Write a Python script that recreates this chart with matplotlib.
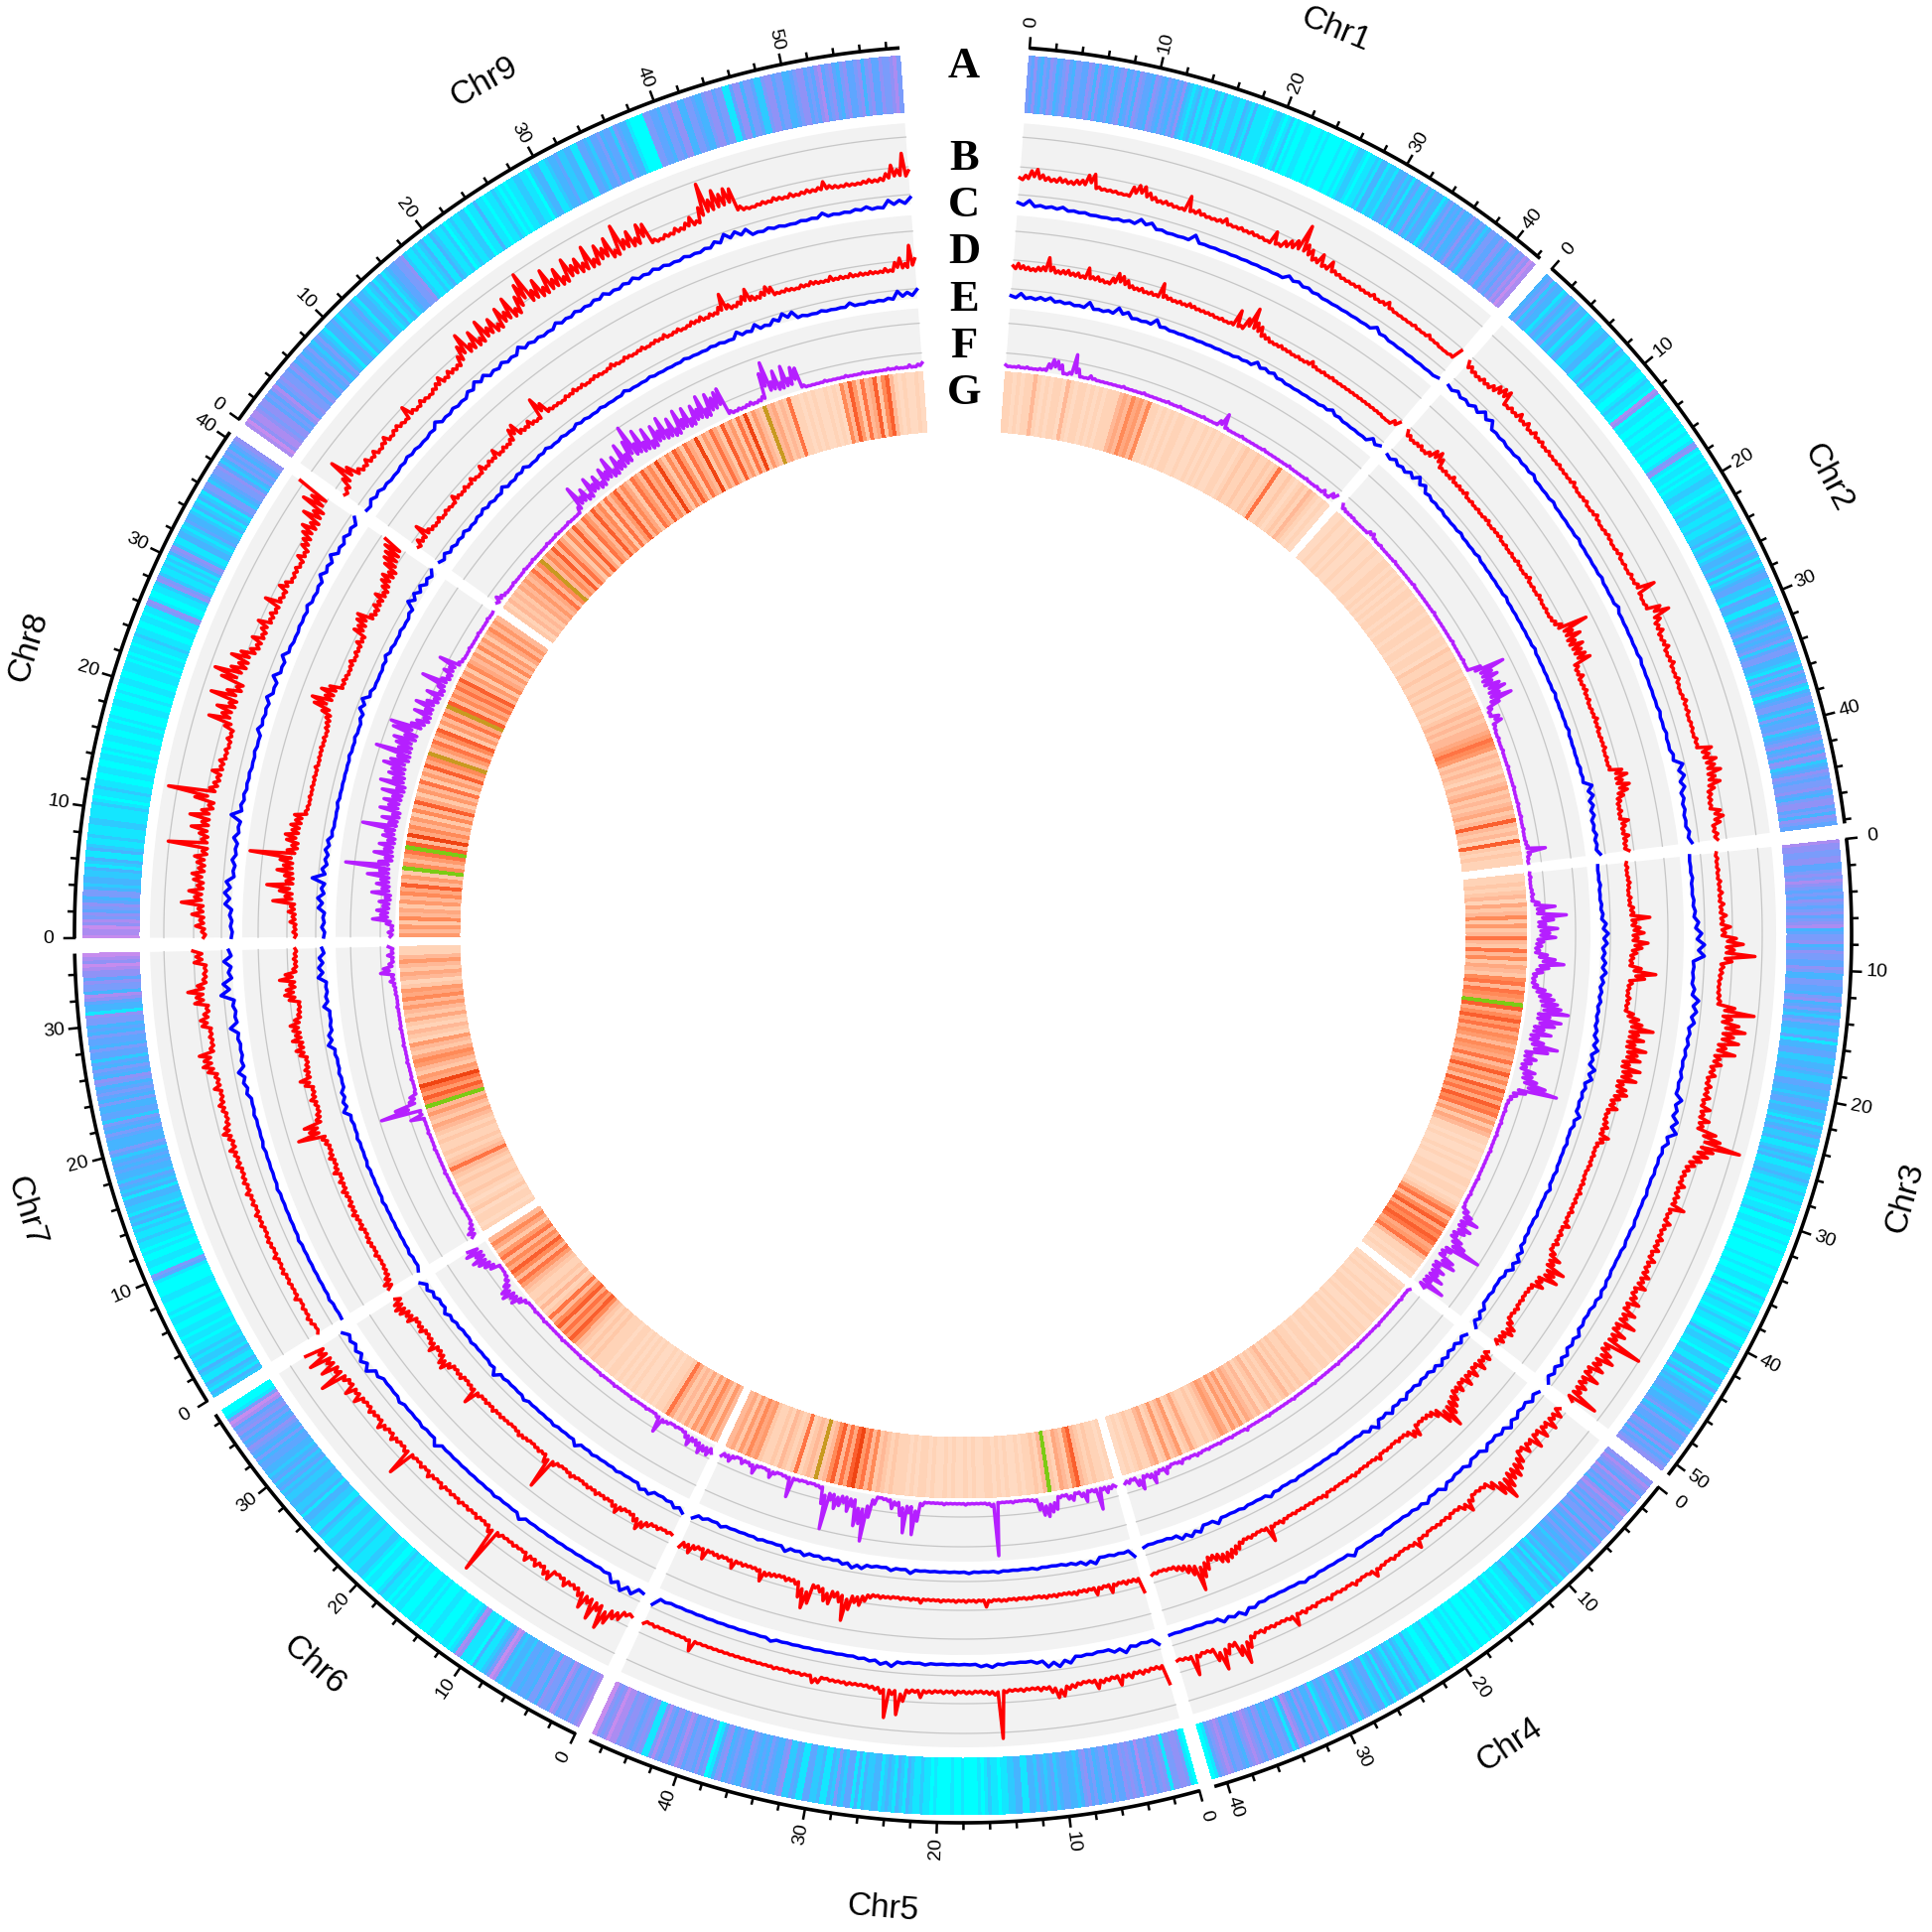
import numpy as np
import matplotlib
matplotlib.use('Agg')
import matplotlib.pyplot as plt
from matplotlib.patches import Wedge
from matplotlib.collections import PatchCollection

# Chromosomes
chr_names = ['Chr1', 'Chr2', 'Chr3', 'Chr4', 'Chr5', 'Chr6', 'Chr7', 'Chr8', 'Chr9']
chr_sizes = [42.3, 48.3, 51, 41, 47.1, 36.7, 35.6, 40.5, 59]
track_letters = ['A', 'B', 'C', 'D', 'E', 'F', 'G']

# Track A, colour class along each chromosome
a_chr1 = [5,4,6,4,3,5,4,6,5,3,4,5,6,4,3,5,5,4,4,6,5,3,6,4,3,4,5,3,4,5,6,3,4,5,3,6,5,4,4,3,6,5,4,3,5,4,3,5,4,6,3,2,1,2,3,1,2,1,1,3,2,1,3,1,1,2,2,1,1,3,2,1,3,1,1,1,1,0,1,2,2,1,0,1,2,0,1,0,0,1,1,0,0,0,1,0,1,0,0,0,0,1,0,0,1,0,1,2,2,1,0,1,1,2,1,3,3,1,2,2,1,3,3,4,2,3,1,3,4,2,2,5,3,2,4,3,3,1,2,4,5,3,4,3,5,3,3,4,6,4,3,5,4,2,3,5,5,4,4,6,5,3,4,6,5,4,6,5,7,6,8,7]
a_chr2 = [3,4,5,2,4,3,3,1,2,4,3,2,4,5,2,3,3,1,2,4,3,1,1,2,2,3,3,1,1,2,3,1,3,2,1,1,2,1,1,2,1,0,0,1,2,1,1,0,7,6,0,1,1,0,0,1,0,0,1,1,0,1,0,0,1,0,0,1,5,6,1,0,1,1,0,1,0,1,1,2,2,1,1,0,1,2,1,2,2,1,1,2,1,1,2,2,3,1,2,3,2,1,2,3,3,2,4,3,1,3,1,2,3,4,4,2,2,1,4,3,3,1,1,4,3,2,3,4,5,3,2,4,3,4,5,2,4,5,5,3,3,2,1,4,2,5,3,4,5,2,1,3,4,5,5,3,2,5,3,4,4,5,2,3,4,5,6,3,4,5,3,6,5,2,3,4,6,5,4,5,5,6,4,3,5,6,6,4,5,3,6,5,4]
a_chr3 = [7,6,6,5,5,6,6,4,4,5,6,5,7,6,5,4,5,4,6,5,4,5,6,4,5,6,7,3,4,5,5,6,3,4,6,5,5,4,4,6,5,3,3,5,5,4,4,3,5,6,3,4,5,3,2,4,5,3,3,2,2,4,1,3,3,4,4,2,2,3,3,4,3,2,2,4,4,3,3,2,3,4,4,2,3,3,2,1,3,2,3,4,2,2,3,1,1,2,3,2,3,1,1,2,2,3,2,1,1,2,1,1,2,1,1,0,1,1,2,0,0,1,1,0,0,1,0,0,1,0,0,0,0,1,0,0,1,0,0,1,1,0,0,2,1,0,1,0,1,2,1,1,0,1,2,1,1,0,0,1,3,1,2,2,1,1,0,2,2,1,1,3,3,1,2,4,1,2,3,2,3,4,4,3,2,3,3,4,5,2,3,5,4,4,3,6,5,4,6,3,5,4,5,6]
a_chr4 = [6,5,7,6,5,4,7,5,6,4,5,3,6,7,5,6,4,5,3,6,4,5,5,3,6,4,3,5,4,3,5,4,3,4,2,3,3,4,2,3,1,2,3,1,3,2,1,2,2,1,1,3,2,1,1,0,1,1,0,1,2,0,1,1,0,0,1,0,1,0,0,0,1,0,0,1,0,1,1,0,0,1,0,0,2,1,1,0,0,1,1,3,1,1,2,3,1,2,3,1,2,3,4,1,3,2,1,4,4,3,2,3,4,5,3,1,4,5,3,2,5,4,3,4,2,1,5,3,3,5,4,6,3,4,6,7,3,1,4,5,5,3,4,3,5,6,4,5,6,7,6,5,3,4,5,5,4,6,7,6,5,4,1,0]
a_chr5 = [0,1,5,6,6,5,5,1,5,6,5,4,6,5,5,7,4,5,6,5,6,4,4,5,3,5,5,4,3,5,4,6,5,3,2,3,3,4,4,3,2,4,3,2,3,4,2,3,3,1,1,3,3,2,2,1,1,0,1,1,2,1,0,1,0,0,0,0,1,0,0,1,0,0,0,0,1,0,1,1,2,1,1,2,3,1,2,3,1,2,3,2,1,3,3,2,2,3,1,3,1,4,4,2,3,5,2,3,1,1,3,2,2,4,4,1,1,3,4,2,2,6,5,3,3,4,5,3,4,3,4,5,6,3,3,4,5,4,3,6,5,3,1,0,5,4,6,4,5,5,4,6,7,5,4,6,6,4,5,7,5,1,1,5,6,5,4,5,6,6,5,7,7,8,6,5,6,8]
a_chr6 = [7,6,5,6,4,5,5,4,6,7,4,5,5,6,3,5,5,3,4,4,3,4,4,2,3,3,2,3,7,8,5,3,2,1,1,3,0,1,1,1,6,7,2,1,0,1,1,0,0,0,1,1,0,0,0,1,0,1,1,0,0,0,1,1,0,1,0,1,1,2,1,0,0,1,1,0,1,2,2,1,1,1,2,1,1,2,2,1,1,2,2,1,1,2,3,1,1,2,2,3,3,1,3,2,2,3,3,2,2,3,2,4,3,2,4,3,2,3,3,4,4,3,5,3,4,5,6,4,3,5,4,6,5,4,7,8,5,1,0,0]
a_chr7 = [2,3,1,2,3,1,1,2,3,1,2,2,1,2,1,1,0,1,1,0,1,1,0,0,1,1,0,1,0,0,0,1,1,0,0,0,0,1,4,5,0,0,1,1,0,0,1,0,1,1,2,1,1,2,1,3,2,3,1,2,2,3,3,1,3,2,3,4,2,3,3,4,3,4,3,2,4,5,3,3,3,4,5,3,4,5,2,4,4,3,3,5,3,4,5,4,3,5,6,3,4,5,3,4,2,4,4,5,3,4,4,5,3,4,3,5,5,6,1,3,3,4,6,7,3,5,5,6,4,6,6,7,8,6,7,8]
a_chr8 = [8,7,7,8,6,7,5,6,4,5,6,4,3,5,5,3,2,3,3,2,2,3,1,2,3,1,1,3,2,1,1,2,1,1,1,2,2,1,1,1,1,2,1,0,1,1,2,1,1,0,0,1,1,0,0,1,1,0,1,0,0,1,1,0,0,1,1,0,1,0,0,0,1,1,0,0,1,0,0,1,1,0,0,1,1,1,0,1,0,1,1,0,1,1,2,1,1,0,0,1,1,0,1,1,5,6,1,0,0,1,1,2,6,5,2,1,1,2,1,2,1,3,5,6,2,1,1,3,3,2,1,2,4,3,3,2,1,3,2,1,3,2,1,4,5,5,2,3,4,5,5,6,4,2,3,5,4,5,3,4,5,6]
a_chr9 = [7,8,6,7,7,6,5,6,6,4,5,4,6,7,4,5,6,5,5,4,6,5,3,4,5,3,4,5,3,2,4,5,3,2,1,3,3,4,2,1,3,2,2,3,4,2,1,3,3,2,1,2,3,1,2,3,1,2,3,4,4,5,5,6,2,1,1,2,1,2,3,1,1,3,2,1,1,2,0,1,2,1,1,2,2,0,1,1,3,1,1,0,1,1,2,1,0,1,0,1,1,2,2,1,1,0,2,3,3,1,1,2,3,3,4,2,2,3,3,1,1,4,4,3,2,4,4,5,3,4,4,2,5,4,3,3,1,0,0,0,0,5,5,4,4,3,5,5,4,6,6,3,3,5,5,4,3,3,5,6,6,4,5,5,1,1,4,6,6,3,5,5,4,2,2,5,6,6,4,5,5,3,3,4,5,6,6,4,5,4,6,7,4,5,6,4,3,5,6,4,4,5,6,3,5,6,4,4,6,5,5,6,7,5]

# Track B, height above the track baseline
b_chr1 = [3,6,11,13,8,6,5,7,6,5,7,8,14,16,4,3,3,3,2,2,11,14,14,9,6,4,5,4,3,3,17,4,6,4,3,3,4,7,3,3,4,3,4,3,3,2,14,4,9,12,15,34,16,13,7,14,5,12,5,4,3,3,3,4,3,3,5,3,4,7,3,2,2,2,2,3,2,2,4,2,2,1,1,2,12]
b_chr2 = [9,7,5,4,6,5,8,12,14,15,3,5,4,8,4,7,3,6,4,5,3,4,3,3,4,3,3,3,5,3,2,3,4,2,3,5,3,2,3,4,3,2,3,5,2,3,2,4,3,5,20,3,2,3,15,22,10,6,8,4,5,7,3,4,6,3,3,5,3,2,3,5,3,4,2,3,3,2,4,3,16,12,18,15,20,13,17,10,6,5,4,12,14,10,4,6,5]
b_chr3 = [2,3,2,3,2,4,3,5,3,6,4,8,5,12,7,18,25,16,37,14,6,5,4,3,3,4,5,20,40,18,26,33,22,28,16,26,12,14,8,10,5,8,6,9,5,12,7,14,9,24,30,52,26,22,17,12,8,6,5,9,5,7,6,17,5,4,9,6,5,8,6,9,5,10,7,8,12,9,14,7,10,16,8,18,12,24,10,20,14,44,12,18,24,14,20,10,22,12,16,14,36,12]
b_chr4 = [7,13,9,16,8,15,6,17,7,12,5,14,18,22,20,25,34,24,12,5,4,3,7,14,8,4,3,5,3,4,3,2,4,3,10,4,3,2,3,4,2,3,4,9,3,2,3,5,2,3,3,2,5,3,2,4,3,5,3,13,4,3,3,4,3,5,3,6,14,28,18,6,12,26,15,4,3,5,22,4,3,2]
b_chr5 = [22,5,4,5,6,4,7,5,12,4,5,6,11,4,3,4,6,7,13,14,8,4,5,3,3,4,3,3,4,50,6,5,4,3,4,4,3,5,3,4,3,4,4,9,4,5,14,28,8,32,8,5,4,3,3,3,4,3,3,3,2,7,8,2,3,2,3,2,2,3,2,2,2,2,2,2,2,2,2,2,2,2,2,2,12,3,2,2,2,2,2,3,2,4]
b_chr6 = [3,5,12,14,22,30,14,26,12,20,10,6,5,9,4,3,12,10,5,8,4,9,3,3,4,3,3,5,50,8,4,3,5,3,4,3,5,3,4,3,6,3,4,7,3,5,3,4,30,6,4,5,8,4,6,10,4,5,7,4,5,12,6,14,5,8,30,10,22,12,28,14,26]
b_chr7 = [3,2,4,5,3,4,2,6,3,3,4,3,5,4,3,6,3,4,5,4,3,5,4,6,3,5,4,7,4,6,5,4,7,5,6,9,5,7,11,8,5,4,6,8,5,4,9,5,6,12,16,14,18,6,4,5,4,11,12,8,5,16,14,22,12,6,5,4,14,12,15]
b_chr8 = [4,6,12,8,16,10,27,14,20,12,16,18,12,14,17,10,45,12,15,24,14,27,16,10,25,53,12,9,7,13,6,8,4,5,3,6,4,12,30,18,25,14,35,20,12,30,39,24,18,28,20,12,8,15,7,10,16,6,8,5,19,6,5,12,8,4,5,6,4,10,6,12,14,18,22,16,28,20,36,30,48]
b_chr9 = [3,6,14,32,18,8,5,8,4,7,3,5,8,3,5,6,4,3,14,5,3,6,4,3,5,7,10,5,8,6,6,12,20,30,14,24,12,28,16,22,12,26,18,30,14,24,34,43,20,28,16,32,18,26,14,30,20,24,16,31,14,26,20,28,12,36,18,24,14,26,24,5,3,5,4,7,5,8,12,6,18,41,22,30,24,28,26,6,3,2,3,4,3,5,4,3,5,3,4,5,4,5,10,5,4,3,4,3,3,4,5,4,5,9,17,12,28,10]

# Track C
c_chr1 = [4,7,3,3,4,2,2,1,1,2,3,7,6,2,1,1,7,1,1,1,1,1,1,1,1,5,4,3,2,1,1,1,1,1,5,2,1,1,1,1,1,2]
c_chr2 = [3,5,4,6,9,8,2,2,1,2,2,3,1,1,2,1,1,1,2,1,1,1,2,1,1,3,1,1,1,1,2,1,1,1,1,2,1,2,1,3,10,9,7,4,3,2,4,5]
c_chr3 = [1,1,2,1,2,3,6,9,12,12,2,2,4,9,8,7,4,4,3,2,3,2,8,6,9,11,6,3,2,2,1,2,1,1,2,1,2,1,1,2,3,4,3,2,3,6,5,7,8,7,8]
c_chr4 = [6,7,4,6,8,5,3,6,2,5,2,3,6,2,5,3,2,1,1,2,1,1,5,1,1,1,2,3,1,1,1,2,4,7,5,6,2,1,1,1,1]
c_chr5 = [7,2,3,7,4,1,2,2,7,9,8,3,1,1,2,4,3,1,1,1,1,2,1,2,6,5,3,2,1,1,1,1,1,1,1,3,1,1,1,1,1,1,1,1,1,2,9]
c_chr6 = [3,9,11,8,2,1,1,1,1,1,1,1,1,5,1,1,2,1,1,1,1,1,1,6,1,2,1,1,3,1,1,4,10,9,7,6,8]
c_chr7 = [1,1,2,1,1,1,1,1,2,1,1,1,1,2,1,1,1,2,1,1,2,1,4,5,8,3,2,3,9,3,4,15,12,6,10,5]
c_chr8 = [2,3,4,9,10,9,3,5,3,6,3,12,4,3,2,2,1,2,1,5,3,3,6,2,7,2,6,2,1,2,2,4,2,3,7,5,8,4,6,5,8]
c_chr9 = [2,5,4,2,1,2,3,2,1,2,6,2,3,2,5,8,7,4,5,3,7,4,3,2,5,3,4,3,4,5,3,4,5,3,4,3,2,3,2,3,6,10,9,8,2,3,2,1,2,2,5,2,2,3,4,2,8,7,9]

# Track D
d_chr1 = [5,8,6,5,4,6,7,17,8,5,6,7,5,6,4,13,5,6,4,3,8,14,12,9,5,4,5,3,4,3,16,5,4,3,4,3,5,4,3,3,3,3,2,3,2,3,18,4,14,27,14,12,6,5,3,3,4,3,3,2,3,2,3,6,3,2,3,2,3,2,2,2,2,2,2,2,2,2,2,2,2,1,1,6,8]
d_chr2 = [7,5,3,4,5,3,6,12,14,10,3,4,3,6,3,4,3,5,2,3,2,3,2,3,4,2,3,3,4,2,3,2,3,2,4,3,2,3,5,2,3,2,4,3,2,3,2,3,5,9,34,16,22,14,20,16,18,21,6,4,7,3,4,5,3,4,2,3,3,5,3,4,2,3,3,4,2,3,2,3,14,18,12,18,15,10,6,4,5,3,10,6,4,8,5,4,6]
d_chr3 = [2,3,2,3,4,3,2,4,3,6,6,22,8,12,16,10,20,14,9,6,5,14,29,18,6,4,3,5,4,3,10,16,20,32,18,24,16,28,20,24,14,26,18,24,12,16,18,12,8,12,5,4,6,8,5,12,8,4,3,4,3,4,3,2,3,4,3,5,3,4,3,5,3,4,8,3,5,4,6,3,8,16,12,26,18,24,10,14,5,4,3,4,3,5,4,3,8,14,15,10,12,8]
d_chr4 = [6,12,8,14,6,13,7,14,6,12,8,14,18,22,33,24,12,7,5,4,4,13,11,5,3,4,2,3,3,2,6,3,2,3,2,3,4,2,3,2,2,3,2,5,3,2,3,2,3,2,3,2,3,5,3,4,17,3,2,3,4,3,5,9,12,14,16,14,10,8,16,22,34,16,12,8,6,3,3,2,3,3]
d_chr5 = [17,5,4,5,3,4,10,3,4,9,3,4,3,5,4,3,3,4,3,4,3,2,3,3,2,3,2,3,3,2,3,8,2,3,2,3,2,3,2,2,3,2,2,2,5,2,3,2,3,2,3,3,4,3,5,9,14,12,20,32,14,10,18,16,8,5,22,28,18,6,4,5,3,4,5,6,13,4,3,3,4,3,10,4,3,5,4,3,12,4,6,12,8,10]
d_chr6 = [2,3,2,4,3,6,10,14,8,4,3,5,10,6,3,4,3,5,3,4,3,2,3,5,3,2,3,6,35,9,3,4,3,2,3,4,5,3,2,3,3,4,3,5,3,4,3,5,18,5,4,3,6,5,4,8,14,12,7,5,12,7,5,4,8,6,5,12,10,14,16,14,10]
d_chr7 = [10,12,8,5,4,3,3,5,3,4,5,4,3,6,4,5,7,5,6,4,5,7,4,6,3,8,5,4,7,5,4,6,8,31,18,22,8,6,4,5,8,5,4,10,14,6,7,5,4,9,12,8,14,10,12,14,9,5,4,3,12,16,14,10,20,14,6,4,5,4,3]
d_chr8 = [3,5,4,8,6,10,8,26,14,20,33,14,16,24,18,22,53,16,12,18,20,14,16,12,14,4,3,2,3,2,3,2,3,2,4,2,3,3,4,3,4,3,5,6,8,14,24,28,16,22,15,4,5,4,3,4,6,3,5,4,8,5,16,14,18,20,8,6,10,8,14,8,12,16,18,14,22,26,28,32,35]
d_chr9 = [3,8,5,17,6,4,3,5,2,4,3,2,8,4,3,5,3,6,3,2,8,3,5,4,10,3,5,4,6,14,16,6,5,8,4,3,23,14,4,3,3,2,4,3,5,3,4,2,3,4,3,2,3,5,3,2,4,3,2,3,4,2,3,4,3,5,2,3,4,2,3,5,4,6,3,5,4,8,20,7,4,6,10,16,7,5,8,12,10,3,3,4,3,2,4,3,5,4,3,3,6,3,4,3,5,3,4,3,4,3,3,5,3,10,14,8,26,12]

# Track E
e_chr1 = [3,6,3,4,5,3,3,2,7,2,3,8,6,2,2,7,2,1,1,1,1,1,1,1,2,2,6,4,4,2,1,1,1,1,2,4,2,1,1,1,6,5]
e_chr2 = [3,5,4,6,9,7,3,2,2,1,1,2,1,1,2,1,1,1,1,2,1,1,1,1,1,2,1,1,1,1,2,1,1,1,2,1,1,1,2,2,9,8,6,5,3,4,3,5]
e_chr3 = [1,1,2,1,2,3,6,8,7,5,6,7,5,4,4,3,3,4,6,8,5,9,8,4,3,2,6,3,1,2,1,1,2,1,3,1,1,2,1,2,3,6,8,7,3,1,2,1,5,7,9]
e_chr4 = [6,7,5,6,7,5,3,4,2,5,3,6,3,8,5,2,1,1,2,1,1,1,1,2,1,2,4,1,1,2,1,1,5,1,6,7,6,2,1,1,2]
e_chr5 = [8,2,2,1,6,5,3,2,1,1,2,1,1,1,2,1,1,2,1,1,1,1,1,4,1,3,1,2,5,6,4,2,3,2,4,2,5,1,1,2,1,1,1,3,1,3,6]
e_chr6 = [6,5,2,1,5,5,1,1,2,1,1,2,1,5,1,1,2,1,1,1,3,1,1,2,7,2,1,1,2,1,2,3,5,2,4,6,8]
e_chr7 = [3,1,2,1,1,1,1,1,2,1,1,1,2,1,1,2,1,2,7,5,4,1,2,1,2,7,5,2,1,6,3,2,9,8,7,4]
e_chr8 = [2,4,3,8,9,6,16,7,5,6,5,2,1,1,2,1,1,1,1,2,1,2,1,3,7,8,3,1,1,2,4,2,1,2,1,3,10,9,8,6,7]
e_chr9 = [5,6,4,3,4,2,3,4,3,2,5,2,3,4,1,2,3,1,2,1,3,2,1,2,1,1,3,1,1,2,1,1,1,2,1,1,2,2,1,6,3,7,3,6,9,8,2,1,2,1,1,4,1,2,2,3,9,7,9]

# Track F
f_chr1 = [2,1,1,2,1,2,1,1,2,2,8,13,12,9,1,3,22,8,1,1,4,2,1,1,1,1,1,1,2,1,1,1,1,2,1,1,1,1,1,2,1,1,2,1,1,1,1,1,2,1,1,1,6,15,2,1,1,1,2,1,1,1,1,1,2,1,1,1,1,1,1,2,1,1,1,1,2,1,1,2,1,4,1,7,8]
f_chr2 = [5,3,2,2,2,1,1,1,1,4,5,2,1,2,1,1,1,1,2,1,1,1,1,1,1,2,1,1,1,1,1,1,1,2,1,1,1,1,1,1,1,2,1,1,1,1,2,1,1,14,37,22,26,18,24,28,20,31,16,6,3,10,11,3,2,1,2,1,1,2,1,1,1,2,1,1,1,1,2,1,1,1,2,1,1,2,1,1,2,1,1,2,3,20,4,2,1]
f_chr3 = [1,2,1,1,2,3,2,8,24,12,35,22,14,26,18,24,12,10,8,16,24,33,18,12,6,5,8,16,22,26,30,34,42,24,36,30,20,28,16,22,37,28,12,18,14,10,20,18,24,34,47,16,8,4,2,1,2,1,1,2,1,1,2,1,1,1,2,1,1,1,1,1,1,2,1,1,1,2,1,1,2,8,14,23,12,20,16,10,18,24,43,14,10,22,26,12,20,16,24,14,31,12]
f_chr4 = [2,1,1,2,1,1,1,1,1,1,1,2,1,1,1,1,1,1,2,1,1,1,1,1,2,1,1,1,1,1,1,2,1,1,1,1,1,2,1,1,1,1,1,1,2,1,1,1,1,1,3,1,1,1,2,1,1,2,1,1,2,1,2,3,1,2,1,4,2,1,3,8,3,5,13,6,4,15,10,3,5,4]
f_chr5 = [4,5,8,4,23,4,3,12,6,2,8,6,2,3,14,16,20,18,12,3,2,1,1,1,2,1,1,1,54,4,2,1,1,1,1,2,1,1,1,1,2,1,1,1,1,4,20,34,12,33,16,6,10,3,2,1,8,22,47,30,33,14,20,12,16,20,12,43,18,3,2,1,2,1,2,2,21,3,2,1,3,8,2,1,2,10,4,2,5,1,3,8,5,6]
f_chr6 = [8,12,10,14,8,6,12,6,2,1,2,1,3,4,17,3,1,1,2,1,1,1,2,1,1,1,1,2,1,1,1,2,1,1,1,1,1,2,1,1,1,1,1,2,1,1,1,1,1,2,1,1,2,1,1,3,8,14,12,18,16,10,5,2,1,1,10,14,18,22,16,24,20]
f_chr7 = [8,10,6,3,1,1,1,2,1,1,1,2,1,1,1,1,2,1,1,1,1,1,2,1,1,1,2,1,1,1,14,3,42,26,10,8,2,1,1,2,1,1,1,2,1,1,1,2,1,1,1,2,1,1,1,1,2,1,1,2,2,3,6,4,15,12,6,3,7,3,6]
f_chr8 = [4,6,3,8,22,14,18,12,16,10,24,14,20,16,30,18,53,20,14,26,16,22,14,20,18,42,16,24,14,28,20,26,18,30,16,34,22,28,26,36,30,24,48,26,30,34,24,38,42,22,18,12,24,14,26,16,10,20,8,12,31,12,8,14,10,23,4,2,1,1,2,1,1,1,2,1,1,1,2,1,1]
f_chr9 = [3,7,4,2,1,1,2,1,1,1,2,1,1,2,1,1,1,1,2,1,1,2,1,1,1,2,1,1,1,6,27,12,18,8,24,14,20,10,22,16,28,12,24,16,32,18,30,44,22,34,18,30,14,28,20,32,16,26,12,30,18,28,14,26,20,32,16,30,24,28,30,4,2,3,2,3,4,2,3,5,28,38,16,26,12,28,14,24,22,3,1,1,1,1,2,1,1,1,1,2,1,1,1,2,1,1,1,1,1,2,1,2,1,1,3,1,3,4]

# Track G, colour class (10 green, 11 olive)
g_chr1 = [1,1,0,1,0,1,1,3,1,0,1,0,1,1,0,3,1,0,1,1,0,1,0,1,0,1,1,1,3,4,3,6,4,5,3,6,1,1,0,1,0,1,0,1,1,0,0,1,0,0,1,0,1,0,1,0,0,1,1,0,1,2,1,1,2,1,1,2,1,2,7,1,1,2,1,0,1,2,1,3,2,1,0,1,0]
g_chr2 = [0,0,1,0,0,1,0,1,0,0,1,0,0,1,0,0,1,1,0,1,0,1,0,1,0,1,1,0,1,0,1,1,0,1,1,0,1,1,0,1,1,0,2,1,1,2,1,1,2,1,2,1,1,2,1,2,1,2,3,2,3,2,3,3,4,5,7,6,5,2,3,2,3,2,1,3,2,3,4,2,3,2,3,4,2,3,8,3,2,3,1,8,2,1,2,1,1]
g_chr3 = [1,1,2,1,2,3,1,4,2,3,6,2,5,2,3,7,3,2,7,3,6,2,4,3,2,6,7,3,7,6,5,10,8,4,6,8,5,7,4,6,5,3,6,5,4,7,3,5,8,4,6,3,8,5,7,4,8,6,7,3,5,2,4,3,1,1,0,1,0,0,1,0,1,0,0,1,1,0,1,1,0,1,2,5,7,3,6,8,4,7,6,8,7,4,5,7,3,1,1,0,1,0]
g_chr4 = [0,1,0,1,0,0,1,0,1,1,0,1,0,0,1,0,1,0,1,1,0,1,0,1,1,0,1,1,0,1,1,2,1,1,2,1,2,1,3,2,1,2,1,3,2,1,3,2,3,4,2,5,3,5,2,4,5,3,2,1,2,1,1,2,4,2,1,5,3,2,5,2,1,4,3,1,1,2,1,0,1,0]
g_chr5 = [1,0,1,1,2,1,2,3,8,6,2,3,4,1,2,10,3,1,2,1,1,0,1,0,0,1,0,1,0,1,1,0,0,1,0,1,0,0,1,0,1,0,0,1,0,1,1,0,1,0,1,1,1,2,1,2,3,2,6,3,7,5,9,8,4,7,3,8,6,3,2,11,2,3,2,1,7,2,1,2,3,1,2,1,1,2,5,4,6,3,5,2,4,3]
g_chr6 = [3,5,2,4,6,3,5,2,4,2,3,2,4,7,2,1,1,0,1,0,1,0,0,1,0,1,0,1,0,1,1,0,1,1,1,2,1,2,1,2,3,6,8,5,7,4,8,6,3,7,2,1,3,1,2,1,1,2,3,5,7,3,6,8,4,6,3,7,5,2,4,6,3]
g_chr7 = [1,0,1,1,0,2,1,0,1,2,1,1,2,1,2,3,7,3,2,1,2,1,1,2,1,2,3,4,2,3,5,3,10,6,8,5,7,9,4,5,2,3,5,6,4,2,3,5,1,2,3,1,2,4,2,3,5,3,6,4,5,2,1,3,4,2,3,5,3,1,1]
g_chr8 = [5,3,5,2,6,3,4,2,5,3,6,4,8,3,5,2,10,6,3,5,7,10,8,3,9,4,6,3,5,2,6,3,8,4,2,5,3,7,2,5,3,8,4,6,11,3,5,7,3,6,8,2,5,3,7,4,11,8,3,6,4,7,5,8,3,5,2,6,4,3,5,2,6,3,5,2,4,6,3,5,3]
g_chr9 = [2,1,3,2,3,2,4,3,5,3,4,7,3,6,11,3,6,4,8,3,7,4,2,6,3,8,4,2,7,5,3,8,4,6,2,7,3,5,8,3,6,4,2,7,5,3,8,4,6,3,9,4,2,6,3,8,5,2,7,4,3,9,2,5,3,7,4,2,8,3,5,2,7,3,9,2,5,3,2,11,3,4,2,3,2,7,1,1,0,1,0,1,0,0,1,0,1,0,6,3,8,5,2,7,3,4,8,2,6,8,3,1,0,1,0,0,1,0]

track_a = [a_chr1, a_chr2, a_chr3, a_chr4, a_chr5, a_chr6, a_chr7, a_chr8, a_chr9]
track_b = [b_chr1, b_chr2, b_chr3, b_chr4, b_chr5, b_chr6, b_chr7, b_chr8, b_chr9]
track_c = [c_chr1, c_chr2, c_chr3, c_chr4, c_chr5, c_chr6, c_chr7, c_chr8, c_chr9]
track_d = [d_chr1, d_chr2, d_chr3, d_chr4, d_chr5, d_chr6, d_chr7, d_chr8, d_chr9]
track_e = [e_chr1, e_chr2, e_chr3, e_chr4, e_chr5, e_chr6, e_chr7, e_chr8, e_chr9]
track_f = [f_chr1, f_chr2, f_chr3, f_chr4, f_chr5, f_chr6, f_chr7, f_chr8, f_chr9]
track_g = [g_chr1, g_chr2, g_chr3, g_chr4, g_chr5, g_chr6, g_chr7, g_chr8, g_chr9]

# Colours of the two heat rings
a_colors = ['#00ffff', '#14e6ff', '#2ecaff', '#46b4ff', '#5ea6ff', '#7a9cfb', '#9092f6', '#ab8cf1', '#c68cee']
g_colors = ['#ffdac2', '#ffd3b7', '#ffc8a8', '#ffb896', '#ffa880', '#ff9a6c', '#ff8a58', '#ff7444', '#fa5f2e', '#f04412', '#7ccb14', '#c89a20']

cx, cy = 970, 941
top_gap = 8.4
chr_gap = 1.0
start_angle = 4.3
deg_per_mb = (360 - top_gap - chr_gap * 8) / sum(chr_sizes)


def polar(angle, radius):
    # angle is clockwise from the top of the circle
    a = np.radians(angle)
    return cx + radius * np.sin(a), cy - radius * np.cos(a)


def heat_ring(ax, values, colors, start, size, r_in, r_out):
    edges = start + np.linspace(0, size, len(values) + 1) * deg_per_mb
    patches = []
    for i in range(len(values)):
        patches.append(Wedge((cx, cy), r_out, edges[i] - 90, edges[i + 1] - 90, width=r_out - r_in))
    pc = PatchCollection(patches, facecolors=[colors[v] for v in values], edgecolors='none', antialiased=False)
    ax.add_collection(pc)


def line_track(ax, values, start, size, base, color):
    # each sample is drawn as a needle that falls back between neighbours
    pos = np.linspace(0, size, len(values))
    vals = np.array(values, dtype=float)
    xs = np.empty(len(vals) * 2 - 1)
    hs = np.empty(len(vals) * 2 - 1)
    xs[::2] = pos
    hs[::2] = vals
    xs[1::2] = (pos[:-1] + pos[1:]) / 2
    hs[1::2] = np.minimum(vals[:-1], vals[1:]) * 0.5
    x, y = polar(start + xs * deg_per_mb, base + hs)
    ax.plot(x, y, color=color, lw=2.5, solid_joinstyle='round', zorder=4)


fig = plt.figure(figsize=(19.46, 19.46), dpi=100)
ax = fig.add_axes([0, 0, 1, 1])
ax.set_xlim(0, 1946)
ax.set_ylim(1946, 0)
ax.axis('off')
plt.rcParams['font.family'] = 'Liberation Sans'

band_radii = [(737, 819), (642, 726), (572, 632)]
grid_radii = [805, 775, 747, 710, 681, 652, 617, 587]

angle = start_angle
for i, name in enumerate(chr_names):
    size = chr_sizes[i]
    end = angle + size * deg_per_mb

    # Fundo cinza e grade
    for r_in, r_out in band_radii:
        ax.add_patch(Wedge((cx, cy), r_out, angle - 90, end - 90, width=r_out - r_in, fc='#f2f2f2', ec='none', zorder=1))
    arc = np.linspace(angle, end, 120)
    for r in grid_radii:
        gx, gy = polar(arc, r)
        ax.plot(gx, gy, color='#c6c6c6', lw=0.9, zorder=2)

    # Aneis de calor
    heat_ring(ax, track_a[i], a_colors, angle, size, 830, 887)
    heat_ring(ax, track_g[i], g_colors, angle, size, 507, 568)

    # Linhas
    line_track(ax, track_b[i], angle, size, 761, '#ff0000')
    line_track(ax, track_c[i], angle, size, 735, '#0000ff')
    line_track(ax, track_d[i], angle, size, 670, '#ff0000')
    line_track(ax, track_e[i], angle, size, 642, '#0000ff')
    line_track(ax, track_f[i], angle, size, 573, '#b51fff')

    # Eixo externo
    ox, oy = polar(arc, 895)
    ax.plot(ox, oy, color='black', lw=2.6, zorder=5, solid_capstyle='butt')
    for mb in range(0, int(size) + 1, 2):
        t = angle + mb * deg_per_mb
        major = mb % 10 == 0
        tx, ty = polar(np.array([t, t]), np.array([895, 905 if major else 901]))
        ax.plot(tx, ty, color='black', lw=1.8, zorder=5)
        if major:
            lx, ly = polar(t, 921)
            rot = 90 - t if t < 180 else 270 - t
            ax.text(lx, ly, str(mb), fontsize=14, rotation=rot, rotation_mode='anchor', ha='center', va='center')

    # Nome do cromossomo
    mid = (angle + end) / 2
    lx, ly = polar(mid, 985)
    rot = -mid if (mid < 90 or mid > 270) else 180 - mid
    ax.text(lx, ly, name, fontsize=24, rotation=rot, rotation_mode='anchor', ha='center', va='center')

    angle = end + chr_gap

# Letras dos aneis
letter_y = [67, 160, 207, 254, 302, 349, 396]
for letter, y in zip(track_letters, letter_y):
    ax.text(971, y, letter, fontsize=32, family='Liberation Serif', fontweight='bold', ha='center', va='center')

fig.savefig('out.png', dpi=100)
